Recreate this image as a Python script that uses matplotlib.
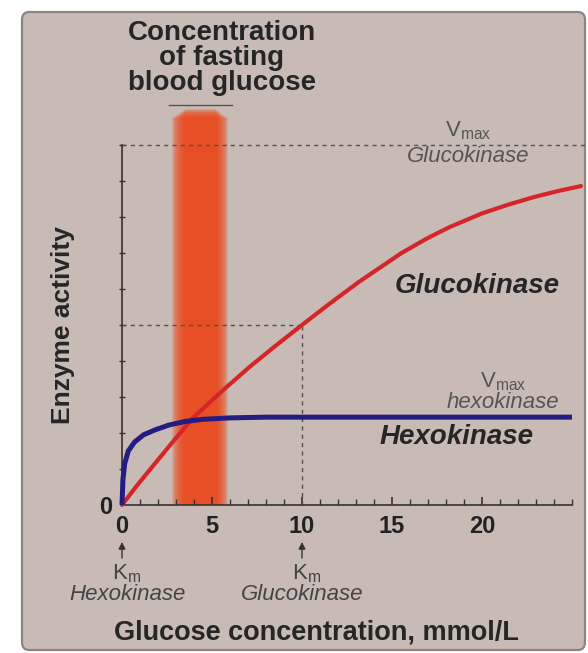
"""
Glucokinase vs hexokinase activity against glucose concentration
"""

import matplotlib
matplotlib.use('Agg')
import matplotlib.pyplot as plt
from matplotlib.patches import FancyBboxPatch
import numpy as np

plt.rcParams['font.family'] = ['Liberation Sans', 'DejaVu Sans']

# glucokinase curve (fraction of glucokinase Vmax)
gk_x = [0, 0.8, 1.5, 2.7, 3.9, 5.5, 7.1, 8.5, 10, 11.5, 13.2, 15.5, 17, 18.2, 20, 21.5, 23, 24.3, 25.5]
gk_y = [0, 0.052, 0.095, 0.168, 0.24, 0.314, 0.384, 0.441, 0.5, 0.558, 0.621, 0.699, 0.742, 0.772, 0.81, 0.835, 0.857, 0.873, 0.886]

# hexokinase curve
hk_x = [0, 0.05, 0.15, 0.35, 0.7, 1.2, 1.8, 2.6, 3.5, 4.5, 6.0, 8.0, 25.0]
hk_y = [0, 0.07, 0.115, 0.15, 0.175, 0.195, 0.208, 0.222, 0.232, 0.238, 0.242, 0.244, 0.244]

# fasting blood glucose band (mmol/L)
band_outer = [2.8, 5.9]
band_core = [3.5, 5.2]
band_top = 1.10

km_hexo = 0
km_gluco = 10
vmax_gluco = 1.0
half_vmax = 0.5

x_major = [0, 5, 10, 15, 20]
x_minor = list(range(0, 26))
y_minor = [i / 10 for i in range(0, 11)]

W, H = 588, 653
x0_px, y0_px = 122, 505      # pixel of data origin
px_x, px_y = 18, 360         # pixels per data unit

fig = plt.figure(figsize=(W / 100, H / 100), dpi=100)
fig.set_facecolor('white')

ax = fig.add_axes([0, 0, 1, 1])
ax.set_facecolor('none')
ax.set_xlim(-x0_px / px_x, (W - x0_px) / px_x)
ax.set_ylim((y0_px - H) / px_y, y0_px / px_y)

panel = FancyBboxPatch((22 / W, 3 / H), 563 / W, 638 / H,
                       boxstyle='round,pad=0,rounding_size=0.012',
                       transform=fig.transFigure, facecolor='#c8bbb5',
                       edgecolor='#8c8580', linewidth=1.6, zorder=-5, clip_on=False)
ax.add_patch(panel)

# band with soft edges: stacked translucent layers
for t in np.linspace(0, 1, 14):
    lo = band_outer[0] + t * (band_core[0] - band_outer[0])
    hi = band_outer[1] - t * (band_outer[1] - band_core[1])
    top = band_top - 0.025 * (1 - t)
    ax.fill_betweenx([0, top], lo, hi, color='#ee4a1c', alpha=0.17, lw=0, zorder=1)
ax.plot([2.6, 6.1], [band_top + 0.012, band_top + 0.012], color='#555555', lw=1.0, zorder=2)

# dashed guide lines
dash = dict(color='#505050', lw=1.0, ls=(0, (3, 3)), zorder=2)
ax.plot([0, 26], [vmax_gluco, vmax_gluco], **dash)
ax.plot([0, km_gluco], [half_vmax, half_vmax], **dash)
ax.plot([km_gluco, km_gluco], [0, half_vmax], **dash)

ax.plot(gk_x, gk_y, color='#d4262a', lw=3.0, solid_capstyle='round', solid_joinstyle='round', zorder=4)
ax.plot(hk_x, hk_y, color='#241c80', lw=3.6, solid_capstyle='butt', solid_joinstyle='round', zorder=5)

# axes
for s in ['top', 'right']:
    ax.spines[s].set_visible(False)
ax.spines['left'].set_position(('data', 0))
ax.spines['bottom'].set_position(('data', 0))
ax.spines['left'].set_bounds(0, 1)
ax.spines['bottom'].set_bounds(0, 25)
ax.spines['left'].set_color('#333333')
ax.spines['bottom'].set_color('#333333')
ax.spines['left'].set_linewidth(1.2)
ax.spines['bottom'].set_linewidth(1.2)

ax.set_xticks(x_major)
ax.set_xticklabels([str(v) for v in x_major], fontsize=17, fontweight='bold', color='#222222')
ax.set_xticks(x_minor, minor=True)
ax.tick_params(axis='x', which='major', direction='in', length=6, width=1.2, color='#333333', pad=7)
ax.tick_params(axis='x', which='minor', direction='in', length=4, width=1.0, color='#333333')
ax.set_yticks([0])
ax.set_yticklabels(['0'], fontsize=17, fontweight='bold', color='#222222')
ax.set_yticks(y_minor, minor=True)
ax.tick_params(axis='y', which='major', direction='in', length=0, pad=7)
ax.tick_params(axis='y', which='minor', direction='inout', length=5, width=1.0, color='#333333')


def ftext(px, py, s, **kw):
    fig.text(px / W, 1 - py / H, s, ha='center', va='center', **kw)


# heading
for py, line in zip([33, 58, 83], ['Concentration', 'of fasting', 'blood glucose']):
    ftext(222, py, line, fontsize=20, fontweight='bold', color='#262626')

ftext(468, 131, r'V$_{\mathregular{max}}$', fontsize=16, color='#555555')
ftext(468, 156, 'Glucokinase', fontsize=16, style='italic', color='#555555')
ftext(477, 286, 'Glucokinase', fontsize=20, fontweight='bold', style='italic', color='#262626')
ftext(503, 382, r'V$_{\mathregular{max}}$', fontsize=16, color='#555555')
ftext(503, 402, 'hexokinase', fontsize=16, style='italic', color='#555555')
ftext(457, 437, 'Hexokinase', fontsize=20, fontweight='bold', style='italic', color='#262626')

ftext(63, 325, 'Enzyme activity', fontsize=19, fontweight='bold', rotation=90, color='#262626')
ftext(316, 633, 'Glucose concentration, mmol/L', fontsize=19.5, fontweight='bold', color='#262626')

# Km markers
for km, name, cx in [(km_hexo, 'Hexokinase', 128), (km_gluco, 'Glucokinase', 302)]:
    ax.annotate('', xy=(km, -0.095), xytext=(km, -0.155),
                arrowprops=dict(arrowstyle='-|>', color='#333333', lw=1.0, mutation_scale=10))
    ftext(x0_px + km * px_x + 5, 574, r'K$_{\mathregular{m}}$', fontsize=16, color='#444444')
    ftext(cx, 595, name, fontsize=16, style='italic', color='#444444')

plt.savefig('out.png', dpi=100, facecolor=fig.get_facecolor())
plt.close()
